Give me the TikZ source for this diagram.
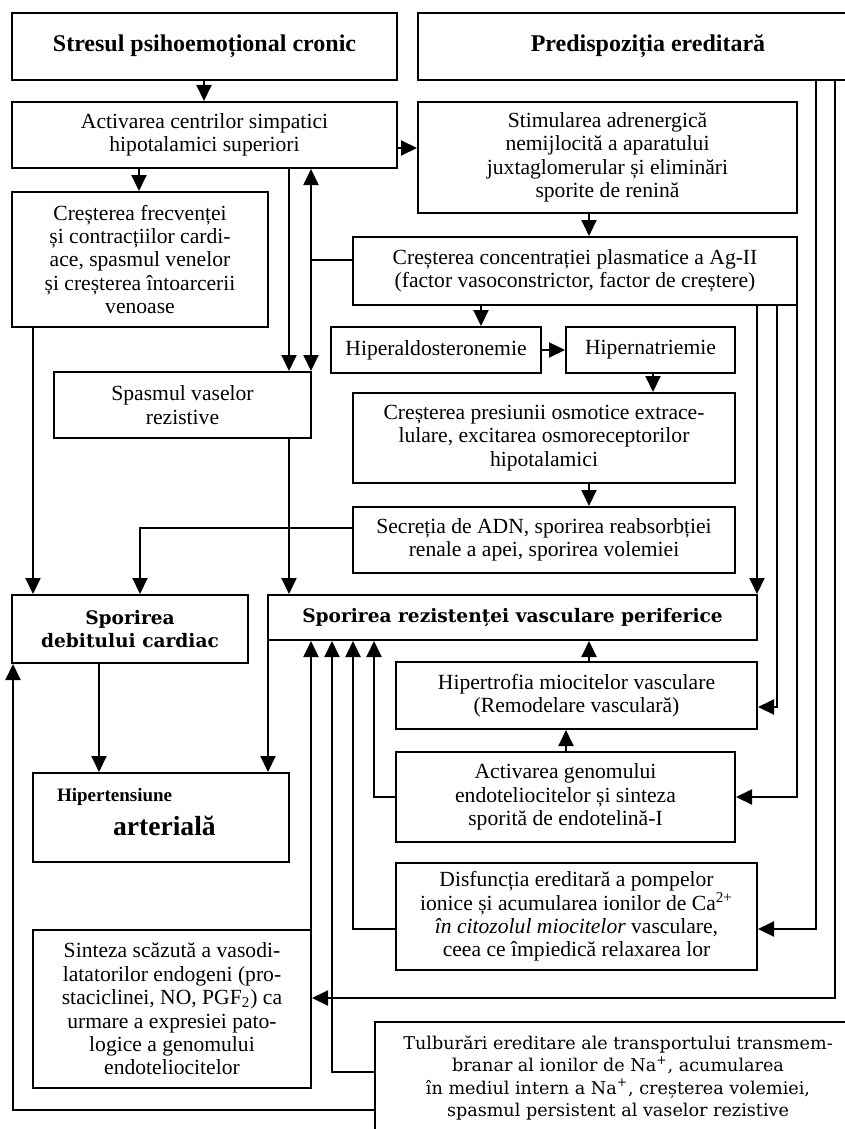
\documentclass[tikz,border=0pt]{standalone}
\usepackage{fontspec}
\setmainfont{Liberation Serif}
\newfontfamily\centfont{DejaVu Serif}
\usetikzlibrary{arrows.meta}
\newcommand\txtfs{\fontsize{10.8}{11.7}\selectfont}
\newcommand\headfs{\fontsize{12}{13}\selectfont\bfseries}
\newcommand\keyfs{\centfont\fontsize{9.3}{11.7}\selectfont\bfseries}
\tikzset{
  box/.style={draw, line width=1pt, inner sep=0pt, align=center, font=\txtfs},
  headbox/.style={box, font=\headfs},
  keybox/.style={box, font=\keyfs},
  conn/.style={line width=1pt},
  arr/.style={conn, -{Triangle[length=8pt,width=7.5pt]}},
}
% \mkbox[style]{x1}{y1}{x2}{y2}{name}{text}: a framed box given by two corners
\newcommand\mkbox[7][]{%
  \node[box,#1, minimum width={(#4-#2)*0.5pt}, minimum height={(#5-#3)*0.5pt}]
    (#6) at ({(#2+#4)/2},{(#3+#5)/2}) {#7};}
\begin{document}
\begin{tikzpicture}[x=0.5pt,y=-0.5pt]
\useasboundingbox (0,0) rectangle (845,1129);
\fill[white] (0,0) rectangle (845,1129);

% guide lines for the connectors
\foreach \xv in {13,33,99,139,140,204,268,289,311,332,353,374,481,566,589,653,757,777,797,816,835}
  \coordinate (v\xv) at (\xv,0);
\foreach \yh in {148,260,350,528,707,797,929,998,1072,1110}
  \coordinate (h\yh) at (0,\yh);

% boxes
\mkbox[headbox]{12}{13}{397}{80}{stres}{Stresul psihoemoțional cronic}
\mkbox[headbox]{418}{13}{878}{80}{pred}{Predispoziția ereditară}
\mkbox{12}{102}{397}{168}{activ}{Activarea centrilor simpatici\\hipotalamici superiori}
\mkbox{418}{102}{797}{213}{stim}{Stimularea adrenergică\\nemijlocită a aparatului\\juxtaglomerular și eliminări\\sporite de renină}
\mkbox{12}{192}{268}{327}{cresf}{Creșterea frecvenței\\și contracțiilor cardi-\\ace, spasmul venelor\\și creșterea întoarcerii\\venoase}
\mkbox{353}{237}{797}{305}{ag}{Creșterea concentrației plasmatice a Ag-II\\(factor vasoconstrictor, factor de creștere)}
\mkbox{331}{327}{541}{373}{hald}{Hiperaldosteronemie}
\mkbox{566}{327}{735}{373}{hnat}{Hipernatriemie}
\mkbox{54}{372}{311}{438}{spasm}{Spasmul vaselor\\rezistive}
\mkbox{353}{393}{735}{483}{presi}{Creșterea presiunii osmotice extrace-\\lulare, excitarea osmoreceptorilor\\hipotalamici}
\mkbox{353}{507}{735}{573}{secr}{Secreția de ADN, sporirea reabsorbției\\renale a apei, sporirea volemiei}
\mkbox[keybox]{12}{595}{248}{663}{debit}{Sporirea\\debitului cardiac}
\mkbox[keybox]{268}{595}{757}{640}{rez}{Sporirea rezistenței vasculare periferice}
\mkbox{396}{662}{757}{729}{hipertr}{Hipertrofia miocitelor vasculare\\(Remodelare vasculară)}
\mkbox{396}{752}{735}{842}{genom}{Activarea genomului\\endoteliocitelor și sinteza\\sporită de endotelină-I}
\mkbox{33}{773}{289}{862}{hta}{}
\node[font=\fontsize{9.5}{11}\selectfont\bfseries, anchor=west] (htaa) at (50,797) {Hipertensiune};
\node[font=\fontsize{13.8}{15}\selectfont\bfseries, anchor=west] (htab) at (106,826) {arterială};
\mkbox{396}{863}{757}{970}{disf}{Disfuncția ereditară a pompelor\\ionice și acumularea ionilor de Ca\textsuperscript{2+}\\\textit{în citozolul miocitelor} vasculare,\\ceea ce împiedică relaxarea lor}
\mkbox{33}{930}{311}{1088}{sint}{Sinteza scăzută a vasodi-\\latatorilor endogeni (pro-\\staciclinei, NO, PGF\textsubscript{2}) ca\\urmare a expresiei pato-\\logice a genomului\\endoteliocitelor}
\mkbox[font=\centfont\fontsize{8.8}{11.3}\selectfont]{375}{1022}{861}{1134}{tulb}{Tulburări ereditare ale transportului transmem-\\branar al ionilor de Na\textsuperscript{+}, acumularea\\în mediul intern a Na\textsuperscript{+}, creșterea volemiei,\\spasmul persistent al vaselor rezistive}

% connectors
\draw[arr] (stres.south -| v204) -- (activ.north -| v204);
\draw[arr] (activ.east |- h148) -- (stim.west |- h148);
\draw[arr] (activ.south -| v139) -- (cresf.north -| v139);
\draw[arr] (activ.south -| v289) -- (spasm.north -| v289);
\draw[arr] (ag.west |- h260) -- (h260 -| v311) -- (activ.south -| v311);
\draw[arr] (h260 -| v311) -- (spasm.north -| v311);
\draw[arr] (stim.south -| v589) -- (ag.north -| v589);
\draw[arr] (ag.south -| v481) -- (hald.north -| v481);
\draw[arr] (hald.east |- h350) -- (hnat.west |- h350);
\draw[arr] (hnat.south -| v653) -- (presi.north -| v653);
\draw[arr] (presi.south -| v589) -- (secr.north -| v589);
\draw[arr] (secr.west |- h528) -- (h528 -| v140) -- (debit.north -| v140);
\draw[arr] (cresf.south -| v33) -- (debit.north -| v33);
\draw[arr] (spasm.south -| v289) -- (rez.north -| v289);
\draw[arr] (ag.south -| v757) -- (rez.north -| v757);
\draw[arr] (ag.south -| v777) -- (h707 -| v777) -- (hipertr.east |- h707);
\draw[arr] (ag.south -| v797) -- (h797 -| v797) -- (genom.east |- h797);
\draw[arr] (pred.south -| v816) -- (h929 -| v816) -- (disf.east |- h929);
\draw[arr] (pred.south -| v835) -- (h998 -| v835) -- (sint.east |- h998);
\draw[arr] (hipertr.north -| v589) -- (rez.south -| v589);
\draw[arr] (genom.north -| v566) -- (hipertr.south -| v566);
\draw[arr] (genom.west |- h797) -- (h797 -| v374) -- (rez.south -| v374);
\draw[arr] (disf.west |- h929) -- (h929 -| v353) -- (rez.south -| v353);
\draw[arr] (sint.north -| v311) -- (rez.south -| v311);
\draw[arr] (tulb.west |- h1072) -- (h1072 -| v332) -- (rez.south -| v332);
\draw[arr] (tulb.west |- h1110) -- (h1110 -| v13) -- (debit.south -| v13);
\draw[arr] (debit.south -| v99) -- (hta.north -| v99);
\draw[arr] (rez.south -| v268) -- (hta.north -| v268);
\end{tikzpicture}
\end{document}
